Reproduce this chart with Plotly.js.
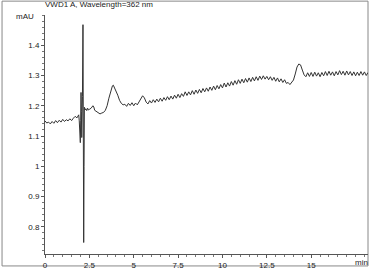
<!DOCTYPE html>
<html>
<head>
<meta charset="utf-8">
<script src="https://cdn.plot.ly/plotly-3.0.1.min.js"></script>
<style>
html,body{margin:0;padding:0;background:#fff;}
#chart{width:370px;height:269px;}
</style>
</head>
<body>
<div id="chart"></div>
<script>
// Retention time (min)
var timeMin = [
  0.0,0.1,0.2,0.3,0.4,0.5,0.6,0.7,0.8,0.9,1.0,1.1,1.2,1.3,1.4,1.5,1.6,1.7,1.8,
  1.85,1.90,1.93,1.96,1.99,2.01,2.03,2.05,2.07,2.09,2.11,2.14,2.16,2.18,2.20,2.22,2.26,2.30,2.35,2.40,2.45,
  2.5,2.6,2.7,2.75,2.8,2.9,3.0,3.1,3.2,3.3,3.4,3.5,3.6,3.7,3.8,3.85,3.9,4.0,4.1,4.2,4.3,4.4,4.5,4.6,4.7,4.8,4.9,
  5.0,5.1,5.2,5.3,5.4,5.5,5.6,5.7,5.8,5.9,6.0,6.1,6.2,6.3,6.4,6.5,6.6,6.7,6.8,6.9,
  7.0,7.1,7.2,7.3,7.4,7.5,7.6,7.7,7.8,7.9,8.0,8.1,8.2,8.3,8.4,8.5,8.6,8.7,8.8,8.9,
  9.0,9.1,9.2,9.3,9.4,9.5,9.6,9.7,9.8,9.9,10.0,10.1,10.2,10.3,10.4,10.5,10.6,10.7,10.8,10.9,
  11.0,11.1,11.2,11.3,11.4,11.5,11.6,11.7,11.8,11.9,12.0,12.1,12.2,12.3,12.4,12.5,12.6,12.7,12.8,12.9,
  13.0,13.1,13.2,13.3,13.4,13.5,13.6,13.7,13.8,13.9,14.0,14.1,14.2,14.3,14.4,14.5,14.6,14.7,14.8,14.9,
  15.0,15.1,15.2,15.3,15.4,15.5,15.6,15.7,15.8,15.9,16.0,16.1,16.2,16.3,16.4,16.5,16.6,16.7,16.8,16.9,
  17.0,17.1,17.2,17.3,17.4,17.5,17.6,17.7,17.8,17.9,18.0,18.1,18.2
];
// Absorbance (mAU)
var signalMAU = [
  1.150,1.143,1.146,1.140,1.148,1.142,1.151,1.144,1.152,1.146,1.155,1.148,1.154,1.150,1.157,1.151,1.159,1.165,1.160,
  1.166,1.170,1.150,1.110,1.078,1.150,1.244,1.180,1.095,1.160,1.230,1.468,1.100,0.748,1.000,1.195,1.186,1.190,1.184,1.192,1.186,
  1.188,1.192,1.200,1.196,1.185,1.181,1.176,1.173,1.176,1.178,1.185,1.200,1.225,1.250,1.266,1.268,1.262,1.250,1.235,1.218,1.208,1.203,1.205,1.198,1.208,1.201,1.210,
  1.200,1.209,1.203,1.212,1.222,1.233,1.226,1.212,1.206,1.217,1.209,1.220,1.211,1.222,1.213,1.225,1.215,1.227,1.218,1.230,
  1.220,1.232,1.222,1.235,1.225,1.238,1.227,1.240,1.231,1.246,1.234,1.246,1.236,1.250,1.238,1.252,1.241,1.254,1.243,1.257,
  1.246,1.259,1.248,1.262,1.251,1.265,1.253,1.267,1.256,1.270,1.259,1.275,1.262,1.276,1.265,1.280,1.268,1.283,1.271,1.286,
  1.274,1.288,1.276,1.290,1.278,1.292,1.280,1.294,1.282,1.296,1.284,1.298,1.287,1.299,1.288,1.297,1.286,1.296,1.284,1.294,
  1.281,1.292,1.279,1.289,1.277,1.286,1.274,1.277,1.270,1.276,1.285,1.305,1.328,1.338,1.335,1.318,1.302,1.296,1.309,1.297,
  1.310,1.297,1.311,1.298,1.309,1.296,1.310,1.299,1.313,1.300,1.314,1.301,1.312,1.299,1.313,1.302,1.316,1.303,1.314,1.301,
  1.315,1.302,1.313,1.300,1.312,1.299,1.311,1.300,1.313,1.301,1.312,1.300,1.310
];
var xTickVals = [0,2.5,5,7.5,10,12.5,15];
var xTickText = ["0","2.5","5","7.5","10","12.5","15"];
var yTickVals = [0.8,0.9,1,1.1,1.2,1.3,1.4];
var yTickText = ["0.8","0.9","1","1.1","1.2","1.3","1.4"];

var font = {family: "Liberation Sans, Arial, sans-serif", size: 8, color: "#222"};

var trace = {
  x: timeMin, y: signalMAU, type: "scatter", mode: "lines",
  line: {color: "#333", width: 1}, hoverinfo: "skip"
};

var layout = {
  width: 370, height: 269,
  margin: {l: 45, r: 2, t: 15, b: 15},
  paper_bgcolor: "#fff", plot_bgcolor: "#fff",
  showlegend: false,
  font: font,
  xaxis: {
    range: [0, 18.2], showgrid: false, zeroline: false,
    showline: true, linecolor: "#555", linewidth: 1,
    ticks: "outside", ticklen: 3, tickcolor: "#555",
    tickmode: "array", tickvals: xTickVals, ticktext: xTickText,
    tickfont: font,
    minor: {dtick: 0.5, ticks: "outside", ticklen: 2, tickcolor: "#777", showgrid: false}
  },
  yaxis: {
    range: [0.71, 1.5], showgrid: false, zeroline: false,
    showline: true, linecolor: "#555", linewidth: 1,
    ticks: "outside", ticklen: 3, tickcolor: "#555",
    tickmode: "array", tickvals: yTickVals, ticktext: yTickText,
    tickfont: font,
    minor: {dtick: 0.02, ticks: "outside", ticklen: 2, tickcolor: "#777", showgrid: false}
  },
  shapes: [{
    type: "rect", xref: "paper", yref: "paper",
    x0: -0.133, x1: 1.0, y0: -0.05, y1: 1.058,
    line: {color: "#888", width: 1}, fillcolor: "rgba(0,0,0,0)", layer: "below"
  }],
  annotations: [
    {text: "VWD1 A, Wavelength=362 nm", xref: "paper", yref: "paper",
     x: -0.006, y: 1.042, xanchor: "left", yanchor: "middle", showarrow: false, font: font},
    {text: "mAU", xref: "paper", yref: "paper",
     x: -0.062, y: 0.992, xanchor: "center", yanchor: "middle", showarrow: false, font: font},
    {text: "min", xref: "paper", yref: "paper",
     x: 0.98, y: -0.034, xanchor: "center", yanchor: "middle", showarrow: false, font: font}
  ]
};

Plotly.newPlot("chart", [trace], layout, {displayModeBar: false, staticPlot: true});
</script>
</body>
</html>
